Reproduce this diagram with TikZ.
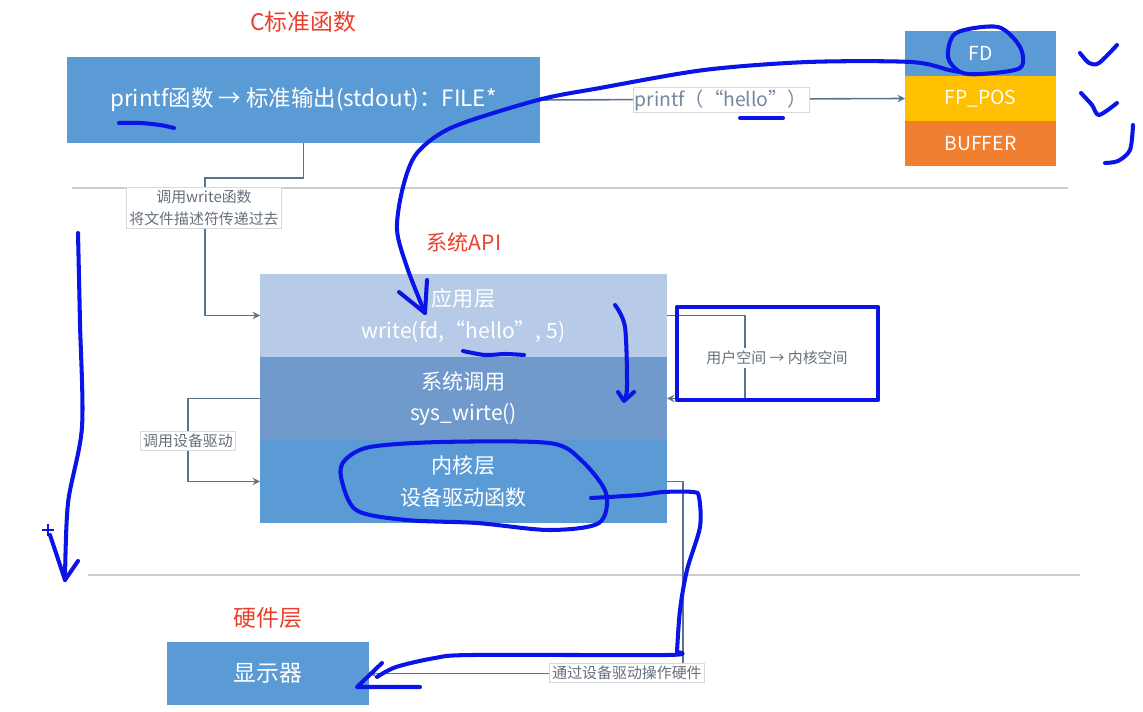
\documentclass[tikz,border=0pt]{standalone}
\usepackage{fontspec}
\setmainfont{Noto Sans CJK SC}
\usetikzlibrary{shapes,arrows,positioning}

\definecolor{boxblue}{HTML}{5B9BD5}
\definecolor{applight}{HTML}{B7CBE8}
\definecolor{sysmid}{HTML}{7099CC}
\definecolor{fpyellow}{HTML}{FFC000}
\definecolor{bufforange}{HTML}{F07F30}
\definecolor{linegray}{HTML}{5A7290}
\definecolor{labelgray}{HTML}{66707C}
\definecolor{titlered}{HTML}{E8402C}
\definecolor{penblue}{HTML}{0A14E6}

\begin{document}
\begin{tikzpicture}[
    x=0.02cm, y=-0.02cm,
    box/.style={fill=boxblue, text=white, inner sep=0pt, outer sep=0pt, align=center, font=\fontsize{11}{14}\selectfont},
    layer/.style={text=white, minimum width=8.14cm, minimum height=1.66cm, inner sep=0pt, outer sep=0pt, align=center, font=\fontsize{12}{18}\selectfont},
    title/.style={text=titlered, font=\fontsize{13}{15}\selectfont},
    conn/.style={draw=linegray, line width=0.9pt, ->, >=stealth},
    lbl/.style={fill=white, draw=gray!30, line width=0.4pt, text=labelgray, inner sep=1.5pt, align=center, font=\fontsize{8.5}{12.5}\selectfont},
    sep/.style={draw=gray!40, line width=0.9pt},
    hand/.style={draw=penblue, line width=2.3pt, line cap=round, line join=round}
]
    \useasboundingbox (0,0) rectangle (1143,712);

    % separators
    \draw [sep] (72,188) -- (1068,188);
    \draw [sep] (88,575) -- (1080,575);

    % C library
    \node (ctitle) [title] at (303,22) {C标准函数};
    \node (printf) [box, minimum width=9.46cm, minimum height=1.72cm, font=\fontsize{12.8}{14}\selectfont] at (303.5,100) {printf函数 → 标准输出(stdout)：FILE*};

    \node (fd) [box, minimum width=3.02cm, minimum height=0.9cm] at (980.5,53.5) {FD};
    \node (fppos) [box, fill=fpyellow, minimum width=3.02cm, minimum height=0.9cm, below=0pt of fd] {FP\_POS};
    \node (buffer) [box, fill=bufforange, minimum width=3.02cm, minimum height=0.9cm, below=0pt of fppos] {BUFFER};

    % system API
    \node (apititle) [title, font=\fontsize{12}{14}\selectfont] at (464,242) {系统API};
    \node (app) [layer, fill=applight] at (463.5,315.5) {应用层\\write(fd,“hello”, 5)};
    \node (sys) [layer, fill=sysmid, below=0pt of app] {系统调用\\sys\_wirte()};
    \node (kern) [layer, fill=boxblue, below=0pt of sys] {内核层\\设备驱动函数};

    % hardware
    \node (hwtitle) [title] at (268,618) {硬件层};
    \node (disp) [box, minimum width=4.04cm, minimum height=1.26cm, font=\fontsize{13}{15}\selectfont] at (268,673.5) {显示器};

    % connectors
    \draw [conn] (printf.east) -- (fppos.west);
    \draw [conn] (printf.south) |- (205,178) |- (app.west);
    \draw [conn] (app.east) -| (745,360) |- (sys.east);
    \draw [conn] (sys.west) -| (188,440) |- (kern.west);
    \draw [conn] (kern.east) -| (683,600) |- (disp.east);

    \node (hellolbl) [lbl, text=linegray!85, font=\fontsize{11}{13}\selectfont, inner sep=1pt] at (721,100) {printf（“hello”）};
    \node (writelbl) [lbl] at (204,208) {调用write函数\\将文件描述符传递过去};
    \node (spacelbl) [lbl, draw=none] at (777,358) {用户空间 → 内核空间};
    \node (drvlbl) [lbl] at (188,441) {调用设备驱动};
    \node (hwlbl) [lbl] at (627,673) {通过设备驱动操作硬件};

    % pen notes
    \draw [hand] plot [smooth] coordinates {(119,123) (140,123) (160,125) (174,128)};
    \draw [hand] plot [smooth] coordinates {(740,118) (783,118)};
    \draw [hand] plot [smooth] coordinates {(463,351) (485,355) (505,354) (524,355)};
    \draw [hand] plot [smooth cycle] coordinates {(948,57) (956,33) (998,27) (1020,47) (1020,68) (981,74) (960,72)};
    \draw [hand] plot [smooth] coordinates {(960,72) (949,70) (911,62) (808,62) (704,70) (600,88) (538,100) (453,127) (417,153) (403,187) (397,230) (408,270) (425,313)};
    \draw [hand] (399,292) -- (425,313) -- (427,280);
    \draw [hand] plot [smooth] coordinates {(1080,53) (1089,63) (1099,63) (1117,45)};
    \draw [hand] plot [smooth] coordinates {(1081,93) (1092,105) (1099,115) (1117,103)};
    \draw [hand] plot [smooth] coordinates {(1133,125) (1130,150) (1118,161) (1105,163)};
    \draw [hand] plot [smooth] coordinates {(78,233) (80,323) (82,427) (68,503) (65,580)};
    \draw [hand] (50,535) -- (65,580) -- (78,561);
    \draw [draw=penblue, line width=1.2pt] (42,530) -- (54,530) (48,524) -- (48,536);
    \draw [hand] plot [smooth] coordinates {(615,305) (625,327) (627,387) (624,400)};
    \draw [hand] (618,392) -- (624,401) -- (634,392);
    \draw [hand, line width=2.6pt, line cap=butt] (677,307) rectangle (878,400);
    \draw [hand] plot [smooth cycle] coordinates {(341,477) (345,460) (370,447) (441,442) (549,443) (581,460) (606,493) (599,523) (549,530) (477,523) (406,520) (356,510)};
    \draw [hand] plot [smooth] coordinates {(591,498) (640,495) (663,492) (693,492) (699,497) (700,527) (687,570) (680,610) (677,652)};
    \draw [hand] plot [smooth] coordinates {(677,652) (667,655) (473,655) (435,658) (396,667) (377,677)};
    \draw [hand] (382,663) -- (357,687) -- (420,687);
\end{tikzpicture}
\end{document}
